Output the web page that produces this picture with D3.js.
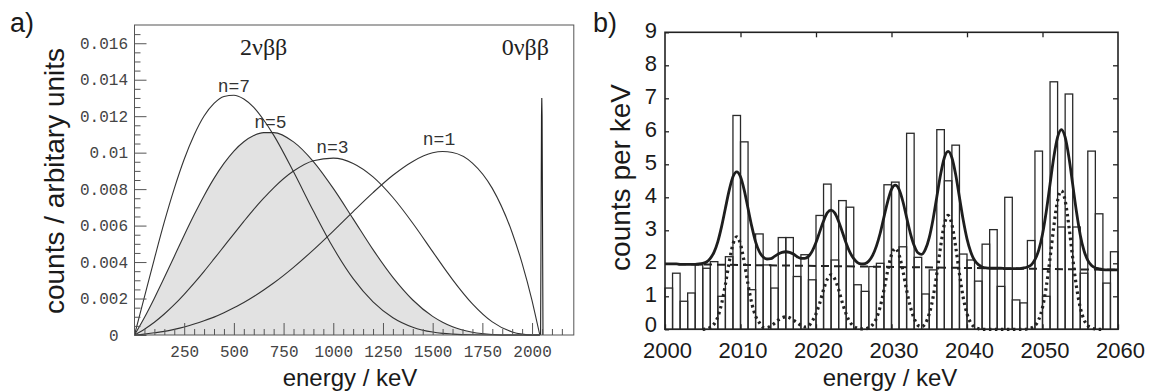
<!DOCTYPE html>
<html>
<head>
<meta charset="utf-8">
<script src="https://cdn.jsdelivr.net/npm/d3@7"></script>
<style>
body { margin: 0; background: #fff; }
svg { display: block; }
</style>
</head>
<body>
<script>
// ---- panel a: summed electron spectra for spectral index n
var specEnergy = [0, 50, 100, 150, 200, 250, 300, 350, 400, 450, 500, 550, 600, 650, 700, 800, 900, 1000, 1100, 1200, 1300, 1400, 1500, 1550, 1600, 1700, 1800, 1900, 1950, 2000, 2020, 2039];
var specN7 = [0, .00209, .00418, .0062, .00803, .00964, .01097, .01201, .0127, .01308, .01315, .01294, .01248, .01179, .01096, .00895, .0068, .00478, .00309, .00182, .00095, .00043, .00016, .00009, .00005, .00001, 0, 0, 0, 0, 0, 0];
var specN5 = [0, .00096, .00202, .00315, .00431, .00547, .00659, .00764, .00859, .00941, .01009, .0106, .01094, .0111, .0111, .01059, .00951, .00804, .00637, .00468, .00316, .00192, .00102, .0007, .00045, .00015, .00003, 0, 0, 0, 0, 0];
var specN3 = [0, .00032, .0007, .00115, .00166, .00223, .00284, .00349, .00417, .00486, .00555, .00623, .00689, .0075, .00807, .00899, .00956, .0097, .00941, .00867, .00754, .00613, .00457, .00379, .00304, .00171, .00072, .00017, .00005, 0, 0, 0];
var specN1 = [0, .00005, .00012, .0002, .00031, .00044, .0006, .00078, .00098, .00122, .00149, .00178, .00211, .00247, .00285, .00371, .00467, .0057, .00677, .00781, .00876, .00952, .00999, .01006, .01001, .00943, .00804, .00561, .00393, .00188, .00093, 0];
var spikeEnergy = [2043, 2047.5, 2049, 2050.5, 2055];
var spikeValue = [0, .012, .013, .012, 0];

var nLabels = ["n=7", "n=5", "n=3", "n=1"];
var nLabelEnergy = [500, 684, 996, 1532];
var nLabelValue = [.0133, .01135, .00998, .01042];

// ---- panel b: counts per 1 keV bin, 2000..2059
var binStart = d3.range(2000, 2060);
var binCounts = [1.25, 1.7, .85, 1.1, 1.95, 1.85, 2.05, 1.0, 2.2, 6.48,
  5.68, 1.2, 2.89, 1.95, 1.25, 2.78, 2.78, 1.6, 2.26, 1.5,
  3.45, 4.4, 2.1, 3.9, 3.7, 1.35, 1.15, 1.9, 2.0, 4.38,
  4.46, 2.5, 5.94, 2.18, 1.07, 1.8, 6.05, 4.5, 5.58, 2.28,
  2.1, 1.46, 2.58, 3.02, 1.3, 4.0, .89, .8, 2.69, 5.4,
  1.0, 7.5, 3.1, 7.13, 3.1, 1.7, 5.4, 3.5, 1.4, 2.35];

// fit curves, sampled every 0.5 keV from 2000 to 2060
var fitEnergy = d3.range(2000, 2060.01, 0.5);
var fitTotal = [1.98, 1.98, 1.98, 1.98, 1.97, 1.97, 1.97, 1.97, 1.97, 1.98,
  2.00, 2.04, 2.15, 2.34, 2.66, 3.12, 3.67, 4.21, 4.62, 4.77,
  4.62, 4.21, 3.66, 3.11, 2.65, 2.35, 2.19, 2.13, 2.14, 2.21,
  2.28, 2.33, 2.35, 2.33, 2.28, 2.20, 2.15, 2.15, 2.21, 2.37,
  2.63, 2.96, 3.28, 3.53, 3.61, 3.52, 3.27, 2.94, 2.61, 2.33,
  2.14, 2.02, 1.98, 1.99, 2.07, 2.24, 2.52, 2.91, 3.40, 3.88,
  4.24, 4.37, 4.24, 3.88, 3.39, 2.91, 2.54, 2.32, 2.27, 2.43,
  2.78, 3.33, 4.01, 4.69, 5.20, 5.39, 5.20, 4.69, 4.00, 3.31,
  2.74, 2.34, 2.09, 1.96, 1.89, 1.86, 1.85, 1.85, 1.85, 1.85,
  1.84, 1.84, 1.84, 1.84, 1.84, 1.86, 1.89, 1.95, 2.11, 2.40,
  2.88, 3.57, 4.40, 5.22, 5.82, 6.05, 5.82, 5.21, 4.39, 3.56,
  2.86, 2.38, 2.09, 1.93, 1.86, 1.83, 1.81, 1.80, 1.80, 1.80,
  1.80];
var fitPeaks = [0, 0, 0, 0, 0, 0, 0, 0, 0, 0,
  0, .01, .06, .16, .38, .78, 1.36, 2.03, 2.58, 2.80,
  2.58, 2.03, 1.36, .78, .40, .20, .06, .05, .10, .18,
  .28, .35, .38, .35, .28, .20, .12, .07, .10, .25,
  .47, .80, 1.20, 1.52, 1.65, 1.52, 1.20, .80, .46, .22,
  .09, .03, .01, .01, .05, .14, .33, .68, 1.19, 1.78,
  2.26, 2.45, 2.26, 1.78, 1.19, .68, .33, .12, .08, .18,
  .47, .96, 1.68, 2.50, 3.18, 3.45, 3.18, 2.50, 1.68, .96,
  .47, .19, .07, .02, 0, 0, 0, 0, 0, 0,
  0, 0, 0, 0, 0, 0, .01, .04, .11, .29,
  .66, 1.29, 2.16, 3.12, 3.90, 4.20, 3.90, 3.12, 2.16, 1.29,
  .66, .29, .11, .04, .01, 0, 0, 0, 0, 0,
  0];
var bgEnergy = [2000, 2060];
var bgValue = [1.98, 1.80];

var W = 1150, H = 391;
var svg = d3.select("body").append("svg")
  .attr("width", W)
  .attr("height", H);

// ================= panel a =================
var xa = d3.scaleLinear().domain([0, 2210]).range([134.5, 573.8]);
var ya = d3.scaleLinear().domain([0, 0.017]).range([335, 25]);

var lineA = d3.line()
  .x(function(d) { return xa(d[0]); })
  .y(function(d) { return ya(d[1]); })
  .curve(d3.curveMonotoneX);

function pairs(xs, ys) {
  return xs.map(function(x, i) { return [x, ys[i]]; });
}

var ga = svg.append("g");

// shaded n=5 spectrum
ga.append("path")
  .datum(pairs(specEnergy, specN5))
  .attr("d", d3.area()
    .x(function(d) { return xa(d[0]); })
    .y0(ya(0))
    .y1(function(d) { return ya(d[1]); })
    .curve(d3.curveMonotoneX))
  .attr("fill", "#e2e2e2");

[specN7, specN5, specN3, specN1].forEach(function(s) {
  ga.append("path")
    .datum(pairs(specEnergy, s))
    .attr("d", lineA)
    .attr("fill", "none")
    .attr("stroke", "#333")
    .attr("stroke-width", 1.1);
});

ga.append("path")
  .datum(pairs(spikeEnergy, spikeValue))
  .attr("d", d3.line().x(function(d) { return xa(d[0]); }).y(function(d) { return ya(d[1]); }))
  .attr("fill", "none")
  .attr("stroke", "#222")
  .attr("stroke-width", 1.1);

// axes of panel a (ticks point inward)
var fmtA = function(d) { return d === 0 ? "0" : String(+d.toFixed(3)); };

ga.append("g").attr("transform", "translate(0," + ya(0) + ")")
  .call(d3.axisBottom(xa).tickValues(d3.range(250, 2001, 250)).tickSize(-12).tickPadding(10.5).tickFormat(d3.format("d")));
ga.append("g").attr("transform", "translate(0," + ya(0) + ")")
  .call(d3.axisBottom(xa).tickValues(d3.range(50, 2151, 50).filter(function(d) { return d % 250 !== 0; })).tickSize(-6).tickFormat(""));

var yMajA = ga.append("g").attr("transform", "translate(" + xa(0) + ",0)")
  .call(d3.axisLeft(ya).tickValues(d3.range(0, 0.0161, 0.002)).tickSize(-12).tickPadding(6.5).tickFormat(fmtA));
ga.append("g").attr("transform", "translate(" + xa(0) + ",0)")
  .call(d3.axisLeft(ya).tickValues(d3.range(0.0005, 0.0166, 0.0005).filter(function(d) { return Math.round(d / 0.0005) % 4 !== 0; })).tickSize(-6).tickFormat(""));

yMajA.selectAll(".tick text").filter(function(d) { return d === 0; }).attr("x", -16);

ga.selectAll(".domain").remove();
ga.selectAll(".tick line").attr("stroke", "#555").attr("stroke-width", 1);
ga.selectAll(".tick text")
  .attr("font-family", "'Liberation Mono', monospace")
  .attr("font-size", 16)
  .attr("fill", "#444");

ga.append("rect")
  .attr("x", xa(0)).attr("y", ya(0.017))
  .attr("width", xa(2210) - xa(0)).attr("height", ya(0) - ya(0.017))
  .attr("fill", "none")
  .attr("stroke", "#555")
  .attr("stroke-width", 1);

// labels
ga.selectAll(".nlab")
  .data(nLabels)
  .enter().append("text")
  .attr("x", function(d, i) { return xa(nLabelEnergy[i]); })
  .attr("y", function(d, i) { return ya(nLabelValue[i]); })
  .attr("text-anchor", "middle")
  .attr("font-family", "'Liberation Mono', monospace")
  .attr("font-size", 18)
  .attr("fill", "#333")
  .text(function(d) { return d; });

ga.append("text")
  .attr("x", xa(531)).attr("y", ya(0.01536))
  .attr("font-family", "'Liberation Serif', serif")
  .attr("font-size", 24)
  .attr("fill", "#222")
  .text("2νββ");
ga.append("text")
  .attr("x", xa(1847)).attr("y", ya(0.01536))
  .attr("font-family", "'Liberation Serif', serif")
  .attr("font-size", 24)
  .attr("fill", "#222")
  .text("0νββ");

ga.append("text")
  .attr("x", 350).attr("y", 386)
  .attr("text-anchor", "middle")
  .attr("font-family", "'Liberation Sans', Arial, sans-serif")
  .attr("font-size", 24)
  .attr("fill", "#1a1a1a")
  .text("energy / keV");
ga.append("text")
  .attr("transform", "translate(64,181) rotate(-90)")
  .attr("text-anchor", "middle")
  .attr("font-family", "'Liberation Sans', Arial, sans-serif")
  .attr("font-size", 28)
  .attr("fill", "#1a1a1a")
  .text("counts / arbitary units");
ga.append("text")
  .attr("x", 10).attr("y", 32)
  .attr("font-family", "'Liberation Sans', Arial, sans-serif")
  .attr("font-size", 27)
  .attr("fill", "#1a1a1a")
  .text("a)");

// ================= panel b =================
var xb = d3.scaleLinear().domain([2000, 2060]).range([665, 1118]);
var yb = d3.scaleLinear().domain([0, 9]).range([329.3, 32.3]);

var gb = svg.append("g");

gb.selectAll(".bar")
  .data(binStart)
  .enter().append("rect")
  .attr("x", function(d) { return xb(d); })
  .attr("y", function(d, i) { return yb(binCounts[i]); })
  .attr("width", function(d) { return xb(d + 1) - xb(d); })
  .attr("height", function(d, i) { return yb(0) - yb(binCounts[i]); })
  .attr("fill", "none")
  .attr("stroke", "#2a2a2a")
  .attr("stroke-width", 1.3);

var lineB = d3.line()
  .x(function(d) { return xb(d[0]); })
  .y(function(d) { return yb(d[1]); })
  .curve(d3.curveMonotoneX);

gb.append("path")
  .datum(pairs(bgEnergy, bgValue))
  .attr("d", lineB)
  .attr("fill", "none")
  .attr("stroke", "#222")
  .attr("stroke-width", 2)
  .attr("stroke-dasharray", "8,5");

gb.append("path")
  .datum(pairs(fitEnergy, fitPeaks).filter(function(d) { return d[0] >= 2005 && d[0] <= 2058; }))
  .attr("d", lineB)
  .attr("fill", "none")
  .attr("stroke", "#222")
  .attr("stroke-width", 3.2)
  .attr("stroke-dasharray", "2.5,3.5");

gb.append("path")
  .datum(pairs(fitEnergy, fitTotal))
  .attr("d", lineB)
  .attr("fill", "none")
  .attr("stroke", "#1e1e1e")
  .attr("stroke-width", 2.8);

gb.append("g").attr("transform", "translate(0," + yb(0) + ")")
  .call(d3.axisBottom(xb).tickValues(d3.range(2000, 2061, 10)).tickSize(-5).tickPadding(13).tickFormat(d3.format("d")));
gb.append("g").attr("transform", "translate(0," + yb(9) + ")")
  .call(d3.axisTop(xb).tickValues(d3.range(2010, 2051, 10)).tickSize(-5).tickFormat(""));
var yAxB = gb.append("g").attr("transform", "translate(" + xb(2000) + ",0)")
  .call(d3.axisLeft(yb).tickValues(d3.range(0, 10)).tickSize(-4).tickPadding(8));
gb.append("g").attr("transform", "translate(" + xb(2060) + ",0)")
  .call(d3.axisRight(yb).tickValues(d3.range(1, 9)).tickSize(-5).tickFormat(""));

gb.selectAll(".domain").remove();
gb.selectAll(".tick line").attr("stroke", "#222").attr("stroke-width", 1.3);
gb.selectAll(".tick text")
  .attr("font-family", "'Liberation Sans', Arial, sans-serif")
  .attr("font-size", 22)
  .attr("fill", "#1a1a1a");
gb.selectAll(".tick text").filter(function() { return this.parentNode.parentNode.getAttribute("transform").indexOf("translate(0,") === 0; })
  .attr("dx", 2);
yAxB.selectAll(".tick text").attr("dy", "0.24em");
yAxB.selectAll(".tick text").filter(function(d) { return d === 0; }).attr("dy", "0.12em");

gb.append("rect")
  .attr("x", xb(2000)).attr("y", yb(9))
  .attr("width", xb(2060) - xb(2000)).attr("height", yb(0) - yb(9))
  .attr("fill", "none")
  .attr("stroke", "#222")
  .attr("stroke-width", 1.6);

gb.append("text")
  .attr("x", 890).attr("y", 386)
  .attr("text-anchor", "middle")
  .attr("font-family", "'Liberation Sans', Arial, sans-serif")
  .attr("font-size", 24)
  .attr("fill", "#1a1a1a")
  .text("energy / keV");
gb.append("text")
  .attr("transform", "translate(630,177.5) rotate(-90)")
  .attr("text-anchor", "middle")
  .attr("font-family", "'Liberation Sans', Arial, sans-serif")
  .attr("font-size", 28)
  .attr("fill", "#1a1a1a")
  .text("counts per keV");
gb.append("text")
  .attr("x", 593).attr("y", 31.5)
  .attr("font-family", "'Liberation Sans', Arial, sans-serif")
  .attr("font-size", 27)
  .attr("fill", "#1a1a1a")
  .text("b)");
</script>
</body>
</html>
